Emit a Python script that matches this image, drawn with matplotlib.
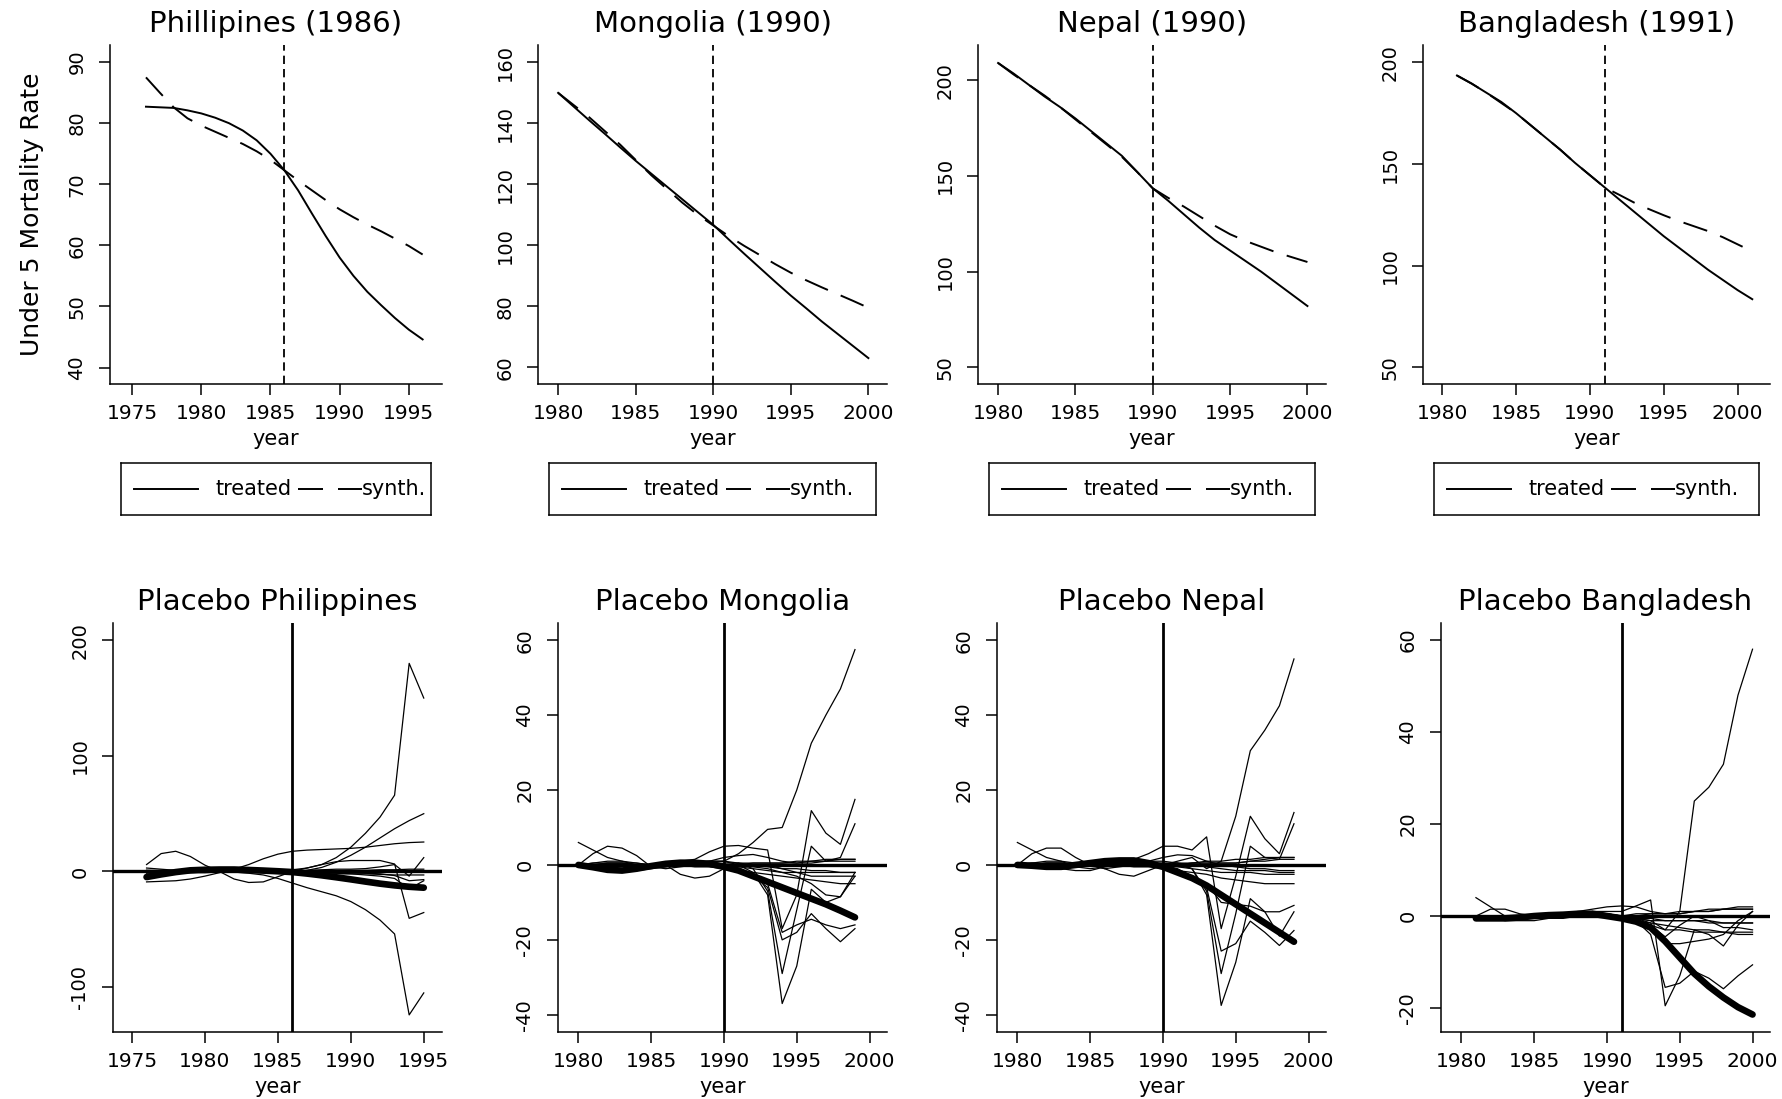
import matplotlib
matplotlib.use("Agg")
import matplotlib.pyplot as plt

plt.rcParams['font.family'] = ['DejaVu Sans']
plt.rcParams['axes.unicode_minus'] = False
plt.rcParams['lines.scale_dashes'] = False

# ---- top row: treated vs synthetic control (under 5 mortality) ----
top_titles = ['Phillipines (1986)', 'Mongolia (1990)', 'Nepal (1990)', 'Bangladesh (1991)']
treat_years = [1986, 1990, 1990, 1991]

ph_years = list(range(1976, 1997))
ph_treated = [82.7, 82.6, 82.5, 82.1, 81.6, 80.9, 80.0, 78.8, 77.2, 75.0, 72.3,
              69.0, 65.2, 61.5, 58.0, 55.0, 52.4, 50.2, 48.1, 46.2, 44.6]
ph_synth = [87.5, 85.0, 82.6, 80.8, 79.6, 78.6, 77.6, 76.6, 75.4, 74.0, 72.3,
            70.6, 69.0, 67.4, 65.9, 64.6, 63.4, 62.3, 61.1, 59.9, 58.5]

mn_years = list(range(1980, 2001))
mn_treated = [150.0, 145.5, 141.0, 136.6, 132.1, 127.7, 123.5, 119.3, 115.1, 110.9, 106.7,
              101.9, 97.2, 92.6, 88.0, 83.5, 79.3, 75.0, 71.0, 67.0, 63.0]
mn_synth = [150.0, 146.0, 142.0, 137.5, 133.0, 128.0, 123.0, 118.5, 114.0, 110.0, 106.5,
            103.0, 99.8, 96.8, 93.8, 91.0, 88.5, 86.2, 84.0, 81.8, 79.5]

np_years = list(range(1980, 2001))
np_treated = [209.0, 203.5, 197.5, 191.5, 186.0, 180.0, 173.5, 167.0, 160.5, 152.0, 143.5,
              137.0, 130.0, 123.0, 116.5, 111.0, 105.5, 100.0, 94.0, 88.0, 82.0]
np_synth = [209.0, 203.0, 197.5, 192.0, 186.0, 179.5, 173.0, 166.5, 160.0, 152.0, 143.5,
            138.5, 134.0, 129.0, 124.0, 119.5, 116.0, 113.0, 110.0, 107.5, 105.0]

bd_years = list(range(1981, 2002))
bd_treated = [193.5, 189.5, 185.0, 180.5, 175.0, 169.0, 163.0, 157.0, 150.5, 144.5, 138.5,
              132.5, 126.5, 120.5, 114.5, 109.0, 103.5, 98.0, 93.0, 88.0, 83.5]
bd_synth = [193.5, 189.5, 185.0, 180.0, 175.0, 169.0, 163.0, 157.0, 150.5, 144.5, 138.5,
            134.8, 131.0, 127.8, 124.8, 122.0, 119.5, 117.0, 114.0, 110.5, 107.0]

top_xlims = [(1973.4, 1997.4), (1978.7, 2001.2), (1978.7, 2001.2), (1978.7, 2002.2)]
top_ylims = [(37.3, 92.8), (54.5, 165.7), (41.25, 218.4), (41.8, 208.5)]
top_xticks = [[1975, 1980, 1985, 1990, 1995]] + [[1980, 1985, 1990, 1995, 2000]] * 3
top_yticks = [[40, 50, 60, 70, 80, 90], [60, 80, 100, 120, 140, 160],
              [50, 100, 150, 200], [50, 100, 150, 200]]

# ---- bottom row: placebo gaps ----
bot_titles = ['Placebo Philippines', 'Placebo Mongolia', 'Placebo Nepal', 'Placebo Bangladesh']

ph_gap_years = list(range(1976, 1996))
ph_gap = [-4.8, -2.5, -0.5, 1.0, 1.5, 1.7, 1.7, 1.3, 0.8, 0.2,
          -0.5, -1.8, -3.3, -5.0, -6.8, -8.7, -10.5, -12.0, -13.2, -14.0]
ph_placebos = [
    [0, 1, 1, 1, 0.5, 0, 0, 0, 0.5, 1, 1.5, 3, 6, 12, 21, 33, 47, 66, 180, 150],
    [1, 0.5, 0, -0.5, -0.5, 0, -0.5, -1.5, -3, -6, -10, -14, -17.5, -21, -26, -33, -42, -54, -124, -105],
    [3, 2, 1, 0.5, 0, 0, 0, 0, 0, 0, 0, 1, 3.5, 8, 14, 21, 29, 37, 44, 50],
    [-9, -8.5, -8, -6.5, -4, -1, 2, 6, 11, 15, 17.5, 18.5, 19, 19.5, 20, 21, 22.5, 24, 25, 25.5],
    [6, 15.5, 17.5, 13, 5.5, 0, -6.5, -9.5, -9, -4.5, 0, 3, 6, 8.5, 9.5, 9.5, 9.5, 6.5, -40.5, -35.5],
    [-1, -1, -0.5, 0, 0, 0, 0.5, 0.5, 0.5, 0.5, 0.5, 1, 1.5, 2, 2, 2.5, 4, 6, -4, 12],
    [-2, -2, -1.5, -1, -0.5, 0, 0, 0, 0, 0, 0, 0, -0.5, -0.5, -1, -1.5, -2, -3.5, -8, -7],
    [1, 1, 0.5, 0.5, 0.5, 0, 0, -0.5, -1, -1, -1.5, -1.5, -2, -2, -2, -2, -2.5, -3, -3, -3],
    [-3, -2, -1, 0, 0.5, 1, 1.5, 1.5, 1, 0.5, 0, 0, 0, 0.5, 1, 1, 1.5, 1.5, 2, 2],
    [0.5, 0, 0, -0.5, -1, -0.5, 0, 0, 0, 0, 0, -0.5, -1, -1.5, -2, -3, -4, -6, -15, -8],
]

mn_gap_years = list(range(1980, 2000))
mn_gap = [0, -0.6, -1.3, -1.5, -1.0, -0.3, 0.3, 0.6, 0.6, 0.3,
          -0.5, -1.5, -3.0, -4.5, -6.0, -7.5, -9.0, -10.5, -12.2, -14.0]
mn_placebos = [
    [0, 0, 0.5, 0.5, 0, 0, 0, 0.5, 1, 1, 1, 3, 6, 9.5, 10, 20, 32.5, 40, 47, 57.5],
    [6, 4, 2, 1, 0, -0.5, -0.5, 0, 0, 0, 0, 0, 0.5, 0.5, 0.5, 1, 1, 1.5, 1.5, 1.5],
    [0, 3, 5, 4.5, 2.5, -0.5, -1, -0.5, 0, 0, 0.5, 0.5, 0, -0.5, -1, -1, -1.5, -1.5, -2, -2],
    [0, 0.5, 0.5, 0.5, 0, 0, 0.5, 1, 1.5, 3.5, 5, 5.2, 4.5, 4, -17, -8, 14.5, 8.5, 5.5, 17.5],
    [-0.5, -0.5, -1, -1, -0.5, 0, 0.5, 0.5, 0.5, 0.5, 1, 0, -2, -8, -37, -27, -6.5, -10, -8.5, -2],
    [0, 0, 0.5, 0.5, 0.5, 0, 0, 0, 0.5, 1, 1, 0.5, -1, -7, -29, -12, 5, 1, 2, 11],
    [0, -0.5, -0.5, -0.5, 0, 0, 0, 0.5, 0.5, 0.5, 0, -1, -3, -6, -20, -18, -13, -17, -20.5, -17],
    [0, 0, 0, 0, 0, 0, 0, 0, 0, 0, -0.5, -1.5, -3, -5, -18, -16, -14.5, -16, -17, -16],
    [0, 0, 0, 0, 0, 0, 0, 0, -0.5, -0.5, -1, -1.5, -2, -2.5, -3, -3.5, -4, -4.5, -5, -5],
    [0, 0, 0, 0, 0, 0, 0, -2.5, -3.5, -3, -1, 0.5, 0.5, 0.5, 0.5, 0.5, 1, 1, 1.5, 1.5],
    [0, -0.5, -1, -1.5, -1.5, -1, -0.5, 0, 0, 0, 0, -0.5, -1, -1.5, -2, -2, -2, -2, -2, -2],
    [0, 0, 0, 0, 0, 0, 0, 0, 0, 0, 0, 0, 0, 0, -1, -2, -3, -3, -3, -3],
    [0, 0.5, 1, 1, 0.5, 0, 0, 0.5, 0.5, 1, 2, 2.5, 2.8, 2, 1, 0.5, 0.5, 1, 1, 1],
    [0, 0, 0, 0, 0, 0, 0, 0, 0, 0, 0, 0, -0.5, -1, -2, -3, -5, -8, -8.5, -3],
]

np_gap_years = list(range(1980, 2000))
np_gap = [0, -0.2, -0.5, -0.5, 0, 0.5, 1.0, 1.2, 1.2, 0.5,
          -0.5, -2.0, -3.5, -5.5, -8.0, -10.5, -13.0, -15.5, -18.0, -20.5]
np_placebos = [
    [0, 0, 0.5, 0.5, 0, 0, 0, 0.5, 1, 0.5, 0, 1, 2, -1, 1, 13, 30.5, 36, 42.5, 55],
    [6, 4, 2, 1, -0.5, -1, -0.5, 0, 0, 0, 0, 0, 0.5, 0.5, 0.5, 0.5, 1, 1.5, 2, 2],
    [0, 3, 4.5, 4.5, 2, 0, -1, -0.5, 0, 0, 0.5, 0.5, 0, -0.5, -1, -1.5, -1.5, -1.5, -2, -2],
    [0, 0.5, 0.5, 0.5, 0, 0, 0.5, 1, 1.5, 3, 5, 5, 4, 7.5, -17, -3, 13, 7, 3, 14],
    [-0.5, -0.5, -1, -1, -0.5, 0, 0.5, 0.5, 0.5, 0.5, 0.5, 0, -1, -8, -37.5, -26, -9, -12.5, -12.5, -10.8],
    [0, 0, 0.5, 0.5, 0.5, 0, 0, 0, 0.5, 1, 1, 0.5, -1, -7, -29, -13, 5, 2, 1.5, 11],
    [0, -0.5, -0.5, -0.5, 0, 0, 0, 0.5, 0.5, 0.5, 0, -1, -3, -6, -23, -21, -15, -18, -21.5, -17.5],
    [0, 0, 0, 0, 0, 0, 0, 0, 0, 0, -0.5, -1.5, -3, -5, -10, -10.5, -11, -12.5, -19, -12.5],
    [0, 0, 0, 0, 0, 0, 0, 0, -0.5, -0.5, -1, -1.5, -2, -2.5, -3.5, -4, -4.5, -5, -5, -5],
    [0, 0, 0, 0, 0, 0, -1, -2.5, -3, -1.5, 0, 0.5, 0.5, 0.5, 0.5, 0.5, 1, 1, 1.5, 1.5],
    [0, -0.5, -1, -1, -1.5, -1.5, -0.5, 0, 0, 0, 0, -0.5, -1, -1.5, -2, -2, -2, -2.5, -2.5, -2.5],
    [0, 0.5, 1, 1, 0.5, 0, 0, 0.5, 0.5, 1, 2, 2.7, 2.5, 1, 0, -0.5, -1, -1, -1.5, -1.5],
    [0, 0, 0, 0, 0, 0, 0, 0, 0, 0, 0, 0, 0.5, 1, 1, 1.5, 1.5, 2, 2, 2],
]

bd_gap_years = list(range(1981, 2001))
bd_gap = [-0.5, -0.5, -0.5, -0.3, 0, 0.2, 0.3, 0.5, 0.5, 0,
          -0.5, -1.2, -2.5, -5.5, -9.0, -12.5, -15.3, -17.7, -19.8, -21.4]
bd_placebos = [
    [0, 0, 0, 0, 0, 0, 0.5, 0.5, 1, 0.5, 0, -0.5, -1, -3, 1, 25, 28, 33, 48, 58],
    [4, 2, 0, -0.5, -0.5, 0, 0, 0, 0, 0, 0, 0.5, 0.5, 0.5, 0.5, 1, 1, 1.5, 1.5, 1.5],
    [0, 1.5, 1.5, 0.5, 0, 0, 0.5, 0.5, 0.5, 0.5, 0, -0.5, -1, -1, -1, -1, -1, -1.5, -1.5, -1.5],
    [0, 0, 0, 0, 0, 0.5, 0.5, 0.5, 1, 1, 1, 2.2, 3.5, -19.5, -13, -3, -4, -6.5, -2, 1],
    [0, 0, -0.5, -0.5, -0.5, 0, 0, 0.5, 0.5, 0.5, 0, -1, -4, -15.5, -14.6, -12, -13.5, -15.8, -13, -10.6],
    [-0.5, -0.5, -1, -1, -1, -0.5, 0, 0, 0, 0, 0, -0.5, -1.5, -6, -6, -5.5, -5, -4, -1, 1],
    [0, 0, 0, 0, 0, 0, 0, 0, 0, 0, 0, -1, -2, -4.5, -2, 0, -1, -2.5, -2.5, -3],
    [0, 0, 0, 0, -0.5, -0.5, -0.5, 0, 0, 0, -0.5, -1, -1.5, -2, -2.5, -3, -3, -3.5, -3.5, -3.5],
    [0, 0, 0, 0, 0, 0, 0, 0, 0, 0, 0, 0, 0.5, 0.5, 1, 1, 1.5, 1.5, 1.5, 1.5],
    [-0.5, -0.5, -0.5, -0.5, -0.5, -0.5, 0, 0, 0, 0, 0, -0.5, -0.5, -1, -1, -1, -1.5, -1.5, -1.5, -1.5],
    [0, 0, 0, 0, 0, 0.5, 0.5, 1, 1.5, 2, 2.2, 2, 1, 0.5, 0.5, 1, 1, 1.5, 2, 2],
    [0, 0, 0, 0, 0, 0, 0, 0, 0, 0, 0, -1, -2, -3, -3, -3.5, -3.5, -3.5, -4, -4],
]

bot_xlims = [(1973.7, 1996.25), (1978.6, 2001.2), (1978.6, 2001.2), (1978.6, 2001.2)]
bot_ylims = [(-138.8, 214.9), (-44.6, 64.6), (-44.6, 64.6), (-25.2, 63.7)]
bot_yticks = [[-100, 0, 100, 200], [-40, -20, 0, 20, 40, 60],
              [-40, -20, 0, 20, 40, 60], [-20, 0, 20, 40, 60]]

top_series = [(ph_years, ph_treated, ph_synth), (mn_years, mn_treated, mn_synth),
              (np_years, np_treated, np_synth), (bd_years, bd_treated, bd_synth)]
bot_series = [(ph_gap_years, ph_gap, ph_placebos), (mn_gap_years, mn_gap, mn_placebos),
              (np_gap_years, np_gap, np_placebos), (bd_gap_years, bd_gap, bd_placebos)]

# ---- layout (pixel boxes) ----
W, H = 1782, 1099
fig = plt.figure(figsize=(W / 100, H / 100), dpi=100)

top_x = [(110, 442), (538, 887), (978, 1326), (1423, 1770)]
bot_x = [(113, 442), (558, 887), (997, 1326), (1441, 1770)]
top_y = (45, 384)
bot_y = (623, 1032)


def add_box(x0, x1, y0, y1):
    return fig.add_axes([x0 / W, 1 - y1 / H, (x1 - x0) / W, (y1 - y0) / H])


def style(ax, xticks, yticks, xlim, ylim, title):
    for s in ['top', 'right']:
        ax.spines[s].set_visible(False)
    for s in ['left', 'bottom']:
        ax.spines[s].set_linewidth(1.1)
    ax.set_xlim(*xlim)
    ax.set_ylim(*ylim)
    ax.set_xticks(xticks)
    ax.set_yticks(yticks)
    ax.tick_params(length=8, width=1.1, direction='out')
    ax.tick_params(axis='x', labelsize=14.5, pad=6.5)
    ax.tick_params(axis='y', labelsize=14, pad=9)
    plt.setp(ax.get_yticklabels(), rotation=90, va='center')
    ax.set_xlabel('year', fontsize=15, labelpad=4.5)
    ax.set_title(title, fontsize=21, pad=9)


for i in range(4):
    years, treated, synth = top_series[i]
    ax = add_box(top_x[i][0], top_x[i][1], *top_y)
    ax.plot(years, treated, color='black', lw=1.4)
    ax.plot(years, synth, color='black', lw=1.4, linestyle=(0, (18, 10)))
    ax.axvline(treat_years[i], color='black', lw=1.3, linestyle=(0, (6, 3.6)))
    style(ax, top_xticks[i], top_yticks[i], top_xlims[i], top_ylims[i], top_titles[i])
    if i == 0:
        ax.set_ylabel('Under 5 Mortality Rate', fontsize=18)
        ax.yaxis.set_label_coords(-0.2, 0.5)

    # boxed legend under each panel
    lx0 = top_x[i][0] + 10.5
    lx1 = top_x[i][1] - 11.5
    lax = add_box(lx0, lx1, 463, 515)
    lax.set_xlim(0, lx1 - lx0)
    lax.set_ylim(0, 1)
    lax.set_xticks([])
    lax.set_yticks([])
    for s in lax.spines.values():
        s.set_linewidth(1.1)
    lax.plot([13, 77], [0.5, 0.5], color='black', lw=1.4)
    lax.text(95, 0.5, 'treated', fontsize=15, va='center', ha='left')
    lax.plot([177, 241], [0.5, 0.5], color='black', lw=1.4, linestyle=(0, (18, 10.8)))
    lax.text(241, 0.5, 'synth.', fontsize=15, va='center', ha='left')

for i in range(4):
    years, gap, placebos = bot_series[i]
    ax = add_box(bot_x[i][0], bot_x[i][1], *bot_y)
    for p in placebos:
        ax.plot(years, p, color='black', lw=0.9)
    ax.axhline(0, color='black', lw=2.4)
    ax.axvline(treat_years[i], color='black', lw=2.0)
    ax.plot(years, gap, color='black', lw=4.8, solid_capstyle='round')
    style(ax, top_xticks[i], bot_yticks[i], bot_xlims[i], bot_ylims[i], bot_titles[i])

fig.savefig('out.png', dpi=100)
